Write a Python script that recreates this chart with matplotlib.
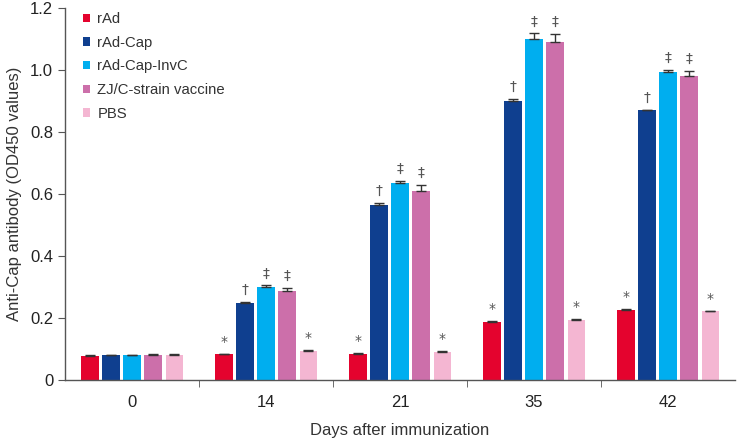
import numpy as np
import matplotlib
matplotlib.use("Agg")
import matplotlib.pyplot as plt
from matplotlib.patches import Patch

days = ["0", "14", "21", "35", "42"]
groups = ["rAd", "rAd-Cap", "rAd-Cap-InvC", "ZJ/C-strain vaccine", "PBS"]
colors = ["#E4032E", "#0F3F8F", "#00AEEF", "#CC6FAA", "#F4B6D2"]

# mean OD450 per group, one list per day point
rAd = [0.078, 0.083, 0.083, 0.186, 0.226]
rAd_cap = [0.080, 0.250, 0.565, 0.900, 0.870]
rAd_cap_invc = [0.080, 0.299, 0.637, 1.099, 0.995]
zj_c = [0.082, 0.287, 0.610, 1.091, 0.981]
pbs = [0.082, 0.094, 0.091, 0.195, 0.222]

rAd_err = [0.004, 0.002, 0.003, 0.004, 0.004]
rAd_cap_err = [0.002, 0.002, 0.006, 0.006, 0.002]
rAd_cap_invc_err = [0.002, 0.006, 0.005, 0.019, 0.004]
zj_c_err = [0.003, 0.010, 0.020, 0.026, 0.016]
pbs_err = [0.002, 0.002, 0.004, 0.002, 0.002]

# significance marks drawn above bars
rAd_mark = ["", "*", "*", "*", "*"]
rAd_cap_mark = ["", "\u2020", "\u2020", "\u2020", "\u2020"]
rAd_cap_invc_mark = ["", "\u2021", "\u2021", "\u2021", "\u2021"]
zj_c_mark = ["", "\u2021", "\u2021", "\u2021", "\u2021"]
pbs_mark = ["", "*", "*", "*", "*"]

plt.rcParams['font.family'] = ['Liberation Sans', 'DejaVu Sans']

series = [rAd, rAd_cap, rAd_cap_invc, zj_c, pbs]
errs = [rAd_err, rAd_cap_err, rAd_cap_invc_err, zj_c_err, pbs_err]
marks = [rAd_mark, rAd_cap_mark, rAd_cap_invc_mark, zj_c_mark, pbs_mark]

fig = plt.figure(figsize=(7.38, 4.4), dpi=100)
ax = fig.add_axes([65 / 738, 1 - 380 / 440, 670 / 738, 372 / 440])

x = np.arange(len(days))
step = 0.157
width = 0.128
for i, (vals, e, m) in enumerate(zip(series, errs, marks)):
    pos = x + (i - 2) * step
    ax.bar(pos, vals, width, color=colors[i], zorder=2)
    ax.errorbar(pos, vals, yerr=[np.zeros(len(e)), e], fmt="none",
                ecolor="#333333", elinewidth=1, capsize=3.5, capthick=1, zorder=3)
    for p, v, ee, s in zip(pos, vals, e, m):
        if s:
            ax.text(p, v + ee + 0.016, s, ha="center", va="bottom",
                    fontsize=10, color="#555555",
                    family=['DejaVu Sans'])

ax.set_xlim(-0.5, len(days) - 0.5)
ax.set_ylim(0, 1.2)
ax.set_yticks([0, 0.2, 0.4, 0.6, 0.8, 1.0, 1.2])
ax.set_yticklabels(["0", "0.2", "0.4", "0.6", "0.8", "1.0", "1.2"])
ax.set_xticks(x)
ax.set_xticklabels(days)
ax.set_xticks(x[:-1] + 0.5, minor=True)
ax.tick_params(axis="x", which="major", length=0, labelsize=12, pad=11,
               labelcolor="#222222")
ax.tick_params(axis="x", which="minor", length=5, color="#555555")
ax.tick_params(axis="y", length=5, color="#555555", labelsize=12,
               labelcolor="#222222")

for side in ["top", "right"]:
    ax.spines[side].set_visible(False)
for side in ["left", "bottom"]:
    ax.spines[side].set_color("#555555")
    ax.spines[side].set_linewidth(1)

ax.set_ylabel("Anti-Cap antibody (OD450 values)", fontsize=12, color="#333333",
              labelpad=6)
ax.set_xlabel("Days after immunization", fontsize=12, color="#333333", labelpad=9)

handles = [Patch(facecolor=c, edgecolor="none") for c in colors]
leg = ax.legend(handles, groups, loc="upper left", bbox_to_anchor=(0.007, 1.025),
                frameon=False, fontsize=10.7, handlelength=0.5, handleheight=0.5,
                handletextpad=0.47, labelspacing=0.65)
for t in leg.get_texts():
    t.set_color("#333333")

fig.savefig("out.png", dpi=100)
